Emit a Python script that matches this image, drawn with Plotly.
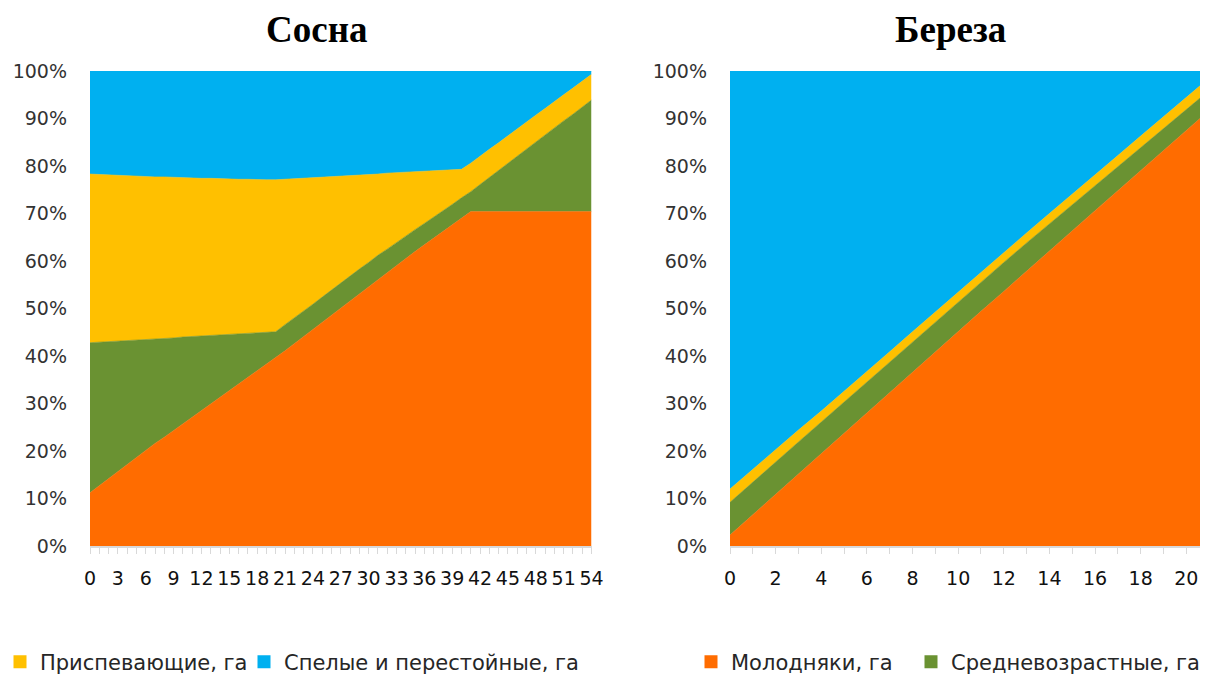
import plotly.graph_objects as go

# ---------------- data ----------------
pine_age = list(range(0, 55))
pine_young = [11.2, 12.7, 14.2, 15.6, 17.1, 18.6, 20.1, 21.6, 22.9, 24.3,
              25.7, 27.1, 28.5, 29.9, 31.3, 32.7, 34.1, 35.5, 36.9, 38.3,
              39.6, 41.1, 42.6, 44.1, 45.6, 47.1, 48.6, 50.1, 51.5, 53.0,
              54.5, 56.0, 57.5, 59.0, 60.5, 62.0, 63.4, 64.8, 66.2, 67.6,
              69.0, 70.4, 70.4, 70.4, 70.4, 70.4, 70.4, 70.4, 70.4, 70.4,
              70.4, 70.4, 70.4, 70.4, 70.4]
pine_middle = [31.6, 30.2, 28.8, 27.6, 26.2, 24.8, 23.4, 22.0, 20.8, 19.5,
               18.3, 17.0, 15.7, 14.4, 13.1, 11.9, 10.6, 9.3, 8.0, 6.7,
               5.5, 5.5, 5.4, 5.4, 5.3, 5.3, 5.3, 5.2, 5.3, 5.3,
               5.2, 5.2, 5.0, 4.9, 4.7, 4.6, 4.5, 4.4, 4.4, 4.3,
               4.3, 4.2, 5.7, 7.2, 8.7, 10.1, 11.6, 13.1, 14.6, 16.1,
               17.6, 19.1, 20.5, 22.0, 23.5]
pine_premature = [35.5, 35.3, 35.1, 34.8, 34.6, 34.5, 34.3, 34.1, 34.0, 33.8,
                  33.5, 33.4, 33.2, 33.1, 32.9, 32.7, 32.5, 32.4, 32.2, 32.1,
                  32.0, 30.6, 29.3, 27.9, 26.6, 25.2, 23.8, 22.5, 21.1, 19.8,
                  18.5, 17.1, 16.0, 14.7, 13.5, 12.2, 11.0, 9.8, 8.5, 7.3,
                  6.0, 6.0, 6.0, 5.9, 5.8, 5.9, 5.8, 5.8, 5.7, 5.6,
                  5.6, 5.5, 5.5, 5.5, 5.4]
pine_mature = [21.7, 21.8, 21.9, 22.0, 22.1, 22.1, 22.2, 22.3, 22.3, 22.4,
               22.5, 22.5, 22.6, 22.6, 22.7, 22.7, 22.8, 22.8, 22.9, 22.9,
               22.9, 22.8, 22.7, 22.6, 22.5, 22.4, 22.3, 22.2, 22.1, 21.9,
               21.8, 21.7, 21.5, 21.4, 21.3, 21.2, 21.1, 21.0, 20.9, 20.8,
               20.7, 19.4, 17.9, 16.5, 15.1, 13.6, 12.2, 10.7, 9.3, 7.9,
               6.4, 5.0, 3.6, 2.1, 0.7]

birch_age = list(range(0, 22))
birch_young = [2.3, 6.6, 10.9, 15.1, 19.4, 23.7, 28.0, 32.3, 36.6, 40.9, 45.1,
               49.4, 53.6, 57.9, 62.1, 66.3, 70.6, 74.8, 79.0, 83.2, 87.5, 91.7]
birch_middle = [6.9, 6.9, 6.8, 6.8, 6.7, 6.6, 6.6, 6.5, 6.5, 6.4, 6.3,
                6.3, 6.1, 5.9, 5.7, 5.5, 5.3, 5.0, 4.8, 4.6, 4.4, 4.2]
birch_premature = [2.8, 2.7, 2.6, 2.5, 2.3, 2.2, 2.1, 2.1, 2.0, 2.0, 2.0,
                   2.0, 2.1, 2.1, 2.2, 2.2, 2.3, 2.4, 2.5, 2.5, 2.6, 2.6]
birch_mature = [88.0, 83.8, 79.7, 75.6, 71.6, 67.5, 63.3, 59.1, 54.9, 50.7, 46.6,
                42.3, 38.2, 34.1, 30.0, 26.0, 21.8, 17.8, 13.7, 9.7, 5.5, 1.5]

series_names = ["Молодняки, га", "Средневозрастные, га",
                "Приспевающие, га", "Спелые и перестойные, га"]
titles = ["Сосна", "Береза"]
y_ticks = list(range(0, 101, 10))
pine_label_step = 3
birch_label_step = 2

# ---------------- style ----------------
colors = ["#FF6C00", "#6A9232", "#FFC000", "#00B0F0"]
OFF = 8                     # page body margin of the html page
W, H = 1208 - 2 * OFF, 675 - OFF


def px_x(p):
    return (p - OFF) / W


def px_y(p):
    return 1 - (p - OFF) / H


fig = go.Figure()

pine_sets = [pine_young, pine_middle, pine_premature, pine_mature]
birch_sets = [birch_young, birch_middle, birch_premature, birch_mature]

for name, vals, c in zip(series_names, pine_sets, colors):
    fig.add_trace(go.Scatter(x=pine_age, y=vals, name=name, mode="lines",
                             stackgroup="pine", line=dict(width=0.6, color=c),
                             fillcolor=c, showlegend=False, hoverinfo="skip",
                             xaxis="x", yaxis="y"))
for name, vals, c in zip(series_names, birch_sets, colors):
    fig.add_trace(go.Scatter(x=birch_age, y=vals, name=name, mode="lines",
                             stackgroup="birch", line=dict(width=0.6, color=c),
                             fillcolor=c, showlegend=False, hoverinfo="skip",
                             xaxis="x2", yaxis="y2"))

# legend entries (one legend per entry, positioned like the original)
legend_keys = ["legend3", "legend4", "legend", "legend2"]
legend_pos = [(691, 662), (911, 662), (0, 662), (244, 662)]
for name, c, key in zip(series_names, colors, legend_keys):
    fig.add_trace(go.Scatter(x=[None], y=[None], name=name, mode="markers",
                             marker=dict(symbol="square", size=13, color=c),
                             showlegend=True, legend=key, hoverinfo="skip",
                             xaxis="x", yaxis="y"))

legend_font = dict(family="DejaVu Sans", size=21, color="#262626")
legend_layouts = {}
for key, (lx, ly) in zip(legend_keys, legend_pos):
    legend_layouts[key] = dict(x=px_x(lx), y=px_y(ly), xref="paper", yref="paper",
                               xanchor="left", yanchor="middle",
                               orientation="h", font=legend_font,
                               bgcolor="rgba(0,0,0,0)", borderwidth=0,
                               itemwidth=30)

pine_ticktext = [str(a) if a % pine_label_step == 0 else "" for a in pine_age]
birch_ticktext = [str(a) if a % birch_label_step == 0 else "" for a in birch_age]

xfont = dict(family="DejaVu Sans", size=19, color="#111111")
yfont = dict(family="DejaVu Sans", size=19, color="#333333")

common_x = dict(showgrid=False, zeroline=False, showline=True,
                linecolor="#D9D9D9", linewidth=2, ticks="outside",
                ticklen=6, tickcolor="#D9D9D9", tickwidth=1,
                tickfont=xfont, ticklabelstandoff=8, tickmode="array",
                automargin=False)
common_y = dict(showgrid=False, zeroline=False, showline=False, range=[0, 100],
                tickmode="array", tickvals=y_ticks,
                ticktext=[f"{v}%" for v in y_ticks], tickfont=yfont,
                ticks="", ticklabelstandoff=22, automargin=False)

y_dom = [px_y(546), px_y(71)]

fig.update_layout(
    width=W, height=H,
    margin=dict(l=0, r=0, t=0, b=0, autoexpand=False),
    paper_bgcolor="white", plot_bgcolor="white",
    xaxis=dict(domain=[px_x(90), px_x(591.5)], range=[0, 54],
               tickvals=pine_age, ticktext=pine_ticktext, anchor="y", **common_x),
    yaxis=dict(domain=y_dom, anchor="x", **common_y),
    xaxis2=dict(domain=[px_x(730), 1.0], range=[0, 20.6],
                tickvals=birch_age, ticktext=birch_ticktext, anchor="y2", **common_x),
    yaxis2=dict(domain=y_dom, anchor="x2", **common_y),
    annotations=[
        dict(text="<b>" + titles[0] + "</b>", x=px_x(316), y=px_y(30),
             xref="paper", yref="paper",
             showarrow=False, xanchor="center", yanchor="middle",
             font=dict(family="Liberation Serif", size=37, color="#000000")),
        dict(text="<b>" + titles[1] + "</b>", x=px_x(950), y=px_y(30),
             xref="paper", yref="paper",
             showarrow=False, xanchor="center", yanchor="middle",
             font=dict(family="Liberation Serif", size=37, color="#000000")),
    ],
    showlegend=True,
    **legend_layouts,
)

fig.write_html("out.html")
